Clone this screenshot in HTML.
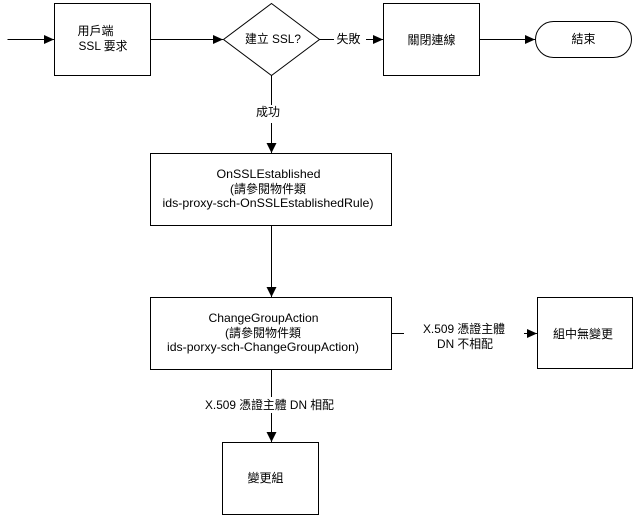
<!DOCTYPE html>
<html><head><meta charset="utf-8"><style>
html,body{margin:0;padding:0;background:#fff}
svg{display:block}
text{font-family:"Liberation Sans","Noto Sans CJK TC","WenQuanYi Zen Hei",sans-serif;font-size:12px;fill:#000;text-anchor:middle}
.s{fill:#fff;stroke:#000;stroke-width:1;shape-rendering:crispEdges}
.l{stroke:#000;stroke-width:1;fill:none;shape-rendering:crispEdges}
.a{fill:#000}
.g{fill:#fff;stroke:none}
</style></head><body>
<svg width="634" height="518" viewBox="0 0 634 518" xmlns="http://www.w3.org/2000/svg">
<rect width="634" height="518" fill="#fff"/>
<!-- connectors -->
<path class="l" d="M7.5 39.5H54M150 39.5H223M319 39.5H383M479 39.5H535M271.5 75V153M271.5 225V297M391 333.5H537M271.5 369V442"/>
<rect class="g" x="334" y="30" width="32" height="18"/>
<rect class="g" x="254" y="105" width="28" height="18"/>
<rect class="g" x="404" y="322" width="120" height="30"/>
<rect class="g" x="200" y="397" width="146" height="16"/>
<!-- arrowheads -->
<polygon class="a" points="44,35 54,39.5 44,44"/>
<polygon class="a" points="213,35 223,39.5 213,44"/>
<polygon class="a" points="373,35 383,39.5 373,44"/>
<polygon class="a" points="525,35 535,39.5 525,44"/>
<polygon class="a" points="266.5,143 276.5,143 271.5,153"/>
<polygon class="a" points="266.5,287 276.5,287 271.5,297"/>
<polygon class="a" points="266.5,432 276.5,432 271.5,442"/>
<polygon class="a" points="527,329 537,333.5 527,338"/>
<!-- shapes -->
<rect class="s" x="54.5" y="3.5" width="96" height="72"/>
<polygon points="271.5,3.5 319.5,39.5 271.5,75.5 223.5,39.5" fill="#fff" stroke="#000" stroke-width="1"/>
<rect class="s" x="383.5" y="3.5" width="96" height="72"/>
<rect x="535.5" y="21.5" width="96" height="36" rx="18" ry="18" fill="#fff" stroke="#000" stroke-width="1"/>
<rect class="s" x="150.5" y="153.5" width="241" height="72"/>
<rect class="s" x="150.5" y="297.5" width="241" height="72"/>
<rect class="s" x="537.5" y="297.5" width="95" height="71"/>
<rect class="s" x="222.5" y="442.5" width="96" height="72"/>
<!-- labels -->
<text x="95.5" y="35">用戶端</text>
<text x="103" y="50" textLength="49" lengthAdjust="spacingAndGlyphs">SSL 要求</text>
<text x="273" y="43" textLength="56" lengthAdjust="spacingAndGlyphs">建立 SSL?</text>
<text x="348.5" y="43">失敗</text>
<text x="431.5" y="44">關閉連線</text>
<text x="583.5" y="43">結束</text>
<text x="268" y="116">成功</text>
<text x="268.5" y="178" textLength="104" lengthAdjust="spacingAndGlyphs">OnSSLEstablished</text>
<text x="268" y="193">(請參閱物件類</text>
<text x="268" y="207" textLength="211" lengthAdjust="spacingAndGlyphs">ids-proxy-sch-OnSSLEstablishedRule)</text>
<text x="263.5" y="322" textLength="110" lengthAdjust="spacingAndGlyphs">ChangeGroupAction</text>
<text x="263" y="337">(請參閱物件類</text>
<text x="263" y="351" textLength="192" lengthAdjust="spacingAndGlyphs">ids-porxy-sch-ChangeGroupAction)</text>
<text x="464" y="333" textLength="82" lengthAdjust="spacingAndGlyphs">X.509 憑證主體</text>
<text x="465" y="348" textLength="56" lengthAdjust="spacingAndGlyphs">DN 不相配</text>
<text x="583" y="338">組中無變更</text>
<text x="269.5" y="409" textLength="129" lengthAdjust="spacingAndGlyphs">X.509 憑證主體 DN 相配</text>
<text x="265.5" y="482">變更組</text>
</svg>
</body></html>
